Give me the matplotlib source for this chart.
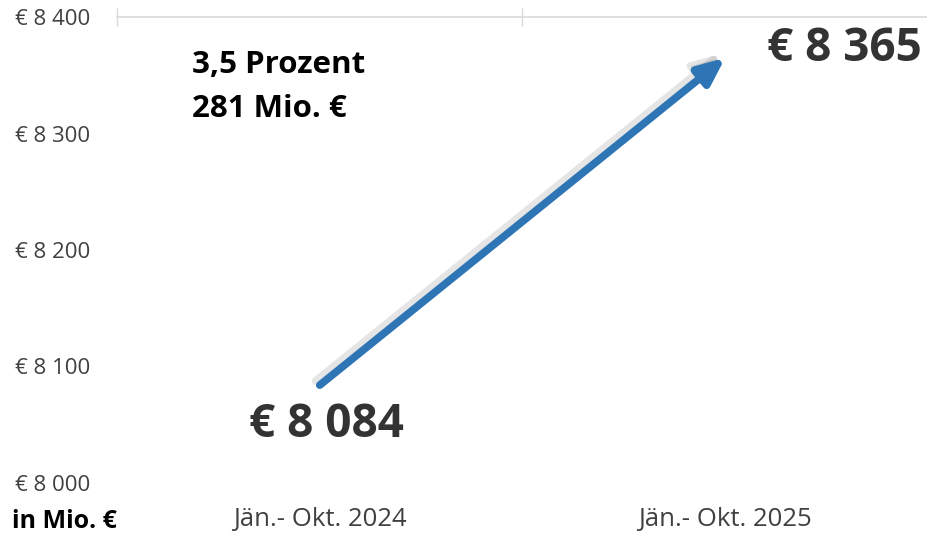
import matplotlib.pyplot as plt
import matplotlib.patheffects as pe

plt.rcParams['font.family'] = ['Open Sans', 'DejaVu Sans']

# Daten
kategorien = ["Jän.- Okt. 2024", "Jän.- Okt. 2025"]
werte = [8084, 8365]
y_ticks = [8000, 8100, 8200, 8300, 8400]
info_text = "3,5 Prozent\n281 Mio. €"

fig = plt.figure(figsize=(9.28, 5.34), dpi=100)
ax = fig.add_axes([117 / 928, 1 - 483 / 534, 811 / 928, 466 / 534])

ax.set_xlim(-0.5, 1.48)
ax.set_ylim(8000, 8400)

# Pfeil von Wert 1 zu Wert 2
ax.annotate("", xy=(1, werte[1]), xytext=(0, werte[0]),
            arrowprops=dict(arrowstyle="-|>,head_length=1.6,head_width=0.7",
                            color="#2E75B6", lw=5.5, capstyle="round",
                            shrinkA=0, shrinkB=0,
                            path_effects=[pe.SimpleLineShadow(offset=(-3, 3), shadow_color="gray", alpha=0.2),
                                          pe.SimplePatchShadow(offset=(-3, 3), shadow_rgbFace="gray", alpha=0.2),
                                          pe.Normal()]))

# Wertebeschriftungen
ax.annotate(f"€ {werte[0]:,}".replace(",", " "), xy=(0, werte[0]), xytext=(5, -28),
            textcoords="offset points", ha="center", va="center",
            fontsize=33, fontweight="bold", color="#333333")
ax.annotate(f"€ {werte[1]:,}".replace(",", " "), xy=(1, werte[1]), xytext=(30, 7),
            textcoords="offset points", ha="left", va="center",
            fontsize=33, fontweight="bold", color="#333333")

ax.text(75 / 811, 1 - 70 / 466, info_text, transform=ax.transAxes,
        fontsize=22.5, fontweight="bold", color="black", linespacing=1.6, va="center")

# Achsen
ax.set_yticks(y_ticks)
ax.set_yticklabels([f"€ {v:,}".replace(",", " ") for v in y_ticks])
ax.set_xticks(range(len(kategorien)))
ax.set_xticklabels(kategorien)
ax.set_xticks([-0.5, 0.5, 1.5], minor=True)

ax.tick_params(axis="y", length=0, pad=19, labelsize=16, labelcolor="#404040")
ax.tick_params(axis="x", which="major", length=0, pad=17, labelsize=18.5, labelcolor="#404040")
ax.tick_params(axis="x", which="minor", bottom=False, top=True, direction="inout",
               length=13, width=1, color="#D9D9D9")

for s in ["left", "right", "bottom"]:
    ax.spines[s].set_visible(False)
ax.spines["top"].set_color("#D9D9D9")
ax.spines["top"].set_linewidth(1.2)

fig.text(12 / 928, 1 - 521 / 534, "in Mio. €", fontsize=18, fontweight="bold",
         color="black", va="center")

fig.savefig("out.png", dpi=100)
